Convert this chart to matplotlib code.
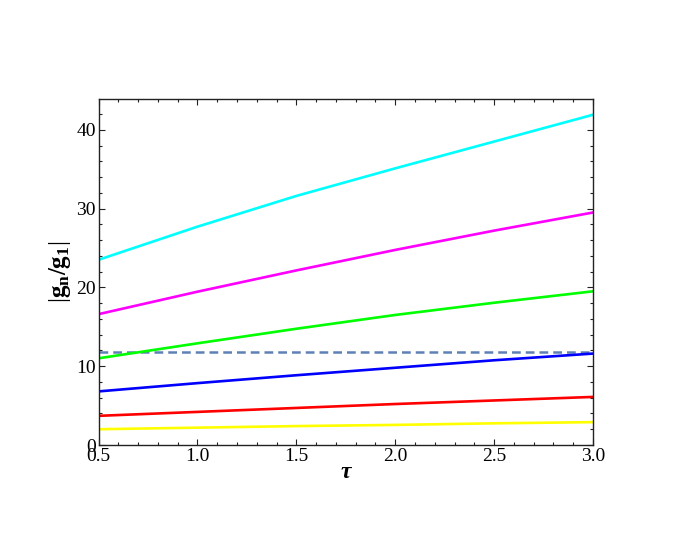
import matplotlib
matplotlib.use("Agg")
import matplotlib.pyplot as plt
from matplotlib.ticker import MultipleLocator

plt.rcParams['font.family'] = ['Liberation Serif', 'DejaVu Serif']
plt.rcParams['mathtext.fontset'] = 'custom'
plt.rcParams['mathtext.rm'] = 'Liberation Serif'
plt.rcParams['mathtext.bf'] = 'Liberation Serif:bold'
plt.rcParams['mathtext.it'] = 'Liberation Serif:italic'

tau = [0.5, 1.0, 1.5, 2.0, 2.5, 3.0]
g_cyan = [23.5, 27.7, 31.6, 35.1, 38.5, 41.9]
g_magenta = [16.6, 19.45, 22.15, 24.75, 27.2, 29.5]
g_green = [11.0, 12.9, 14.75, 16.5, 18.05, 19.5]
g_blue = [6.8, 7.85, 8.85, 9.8, 10.75, 11.6]
g_red = [3.7, 4.2, 4.7, 5.2, 5.65, 6.1]
g_yellow = [2.0, 2.2, 2.4, 2.55, 2.75, 2.9]
threshold = 11.85

series = [
    (g_cyan, '#00ffff'),
    (g_magenta, '#ff00ff'),
    (g_green, '#00ff00'),
    (g_blue, '#0000ff'),
    (g_red, '#ff0000'),
    (g_yellow, '#ffff00'),
]

fig = plt.figure(figsize=(6.92, 5.44), dpi=100)
ax = fig.add_axes([98.5/692, 1 - 445/544, (593-98.5)/692, (445-99)/544])

ax.axhline(threshold, color='#5e81b5', lw=1.8, ls=(0, (3.5, 2.0)), zorder=1)
for vals, col in series:
    ax.plot(tau, vals, color=col, lw=1.9, zorder=2)

ax.set_xlim(0.5, 3.0)
ax.set_ylim(0, 43.9)
ax.xaxis.set_major_locator(MultipleLocator(0.5))
ax.xaxis.set_minor_locator(MultipleLocator(0.1))
ax.yaxis.set_major_locator(MultipleLocator(10))
ax.yaxis.set_minor_locator(MultipleLocator(2))
ax.xaxis.set_major_formatter(matplotlib.ticker.FormatStrFormatter('%.1f'))
ax.tick_params(which='both', direction='in', top=True, right=True, labelsize=14, width=0.8, colors='#222222', labelcolor='black')
ax.tick_params(which='major', length=4.5, pad=2)
ax.tick_params(which='minor', length=2.5)
for s in ax.spines.values():
    s.set_linewidth(1.0)
    s.set_color('#222222')

ax.set_xlabel('τ', fontsize=17, fontweight='bold', fontstyle='italic', labelpad=-2)
ax.set_ylabel(r'$|\mathbf{g_n/g_1}|$', fontsize=18, labelpad=2)

fig.savefig('out.png', dpi=100)
